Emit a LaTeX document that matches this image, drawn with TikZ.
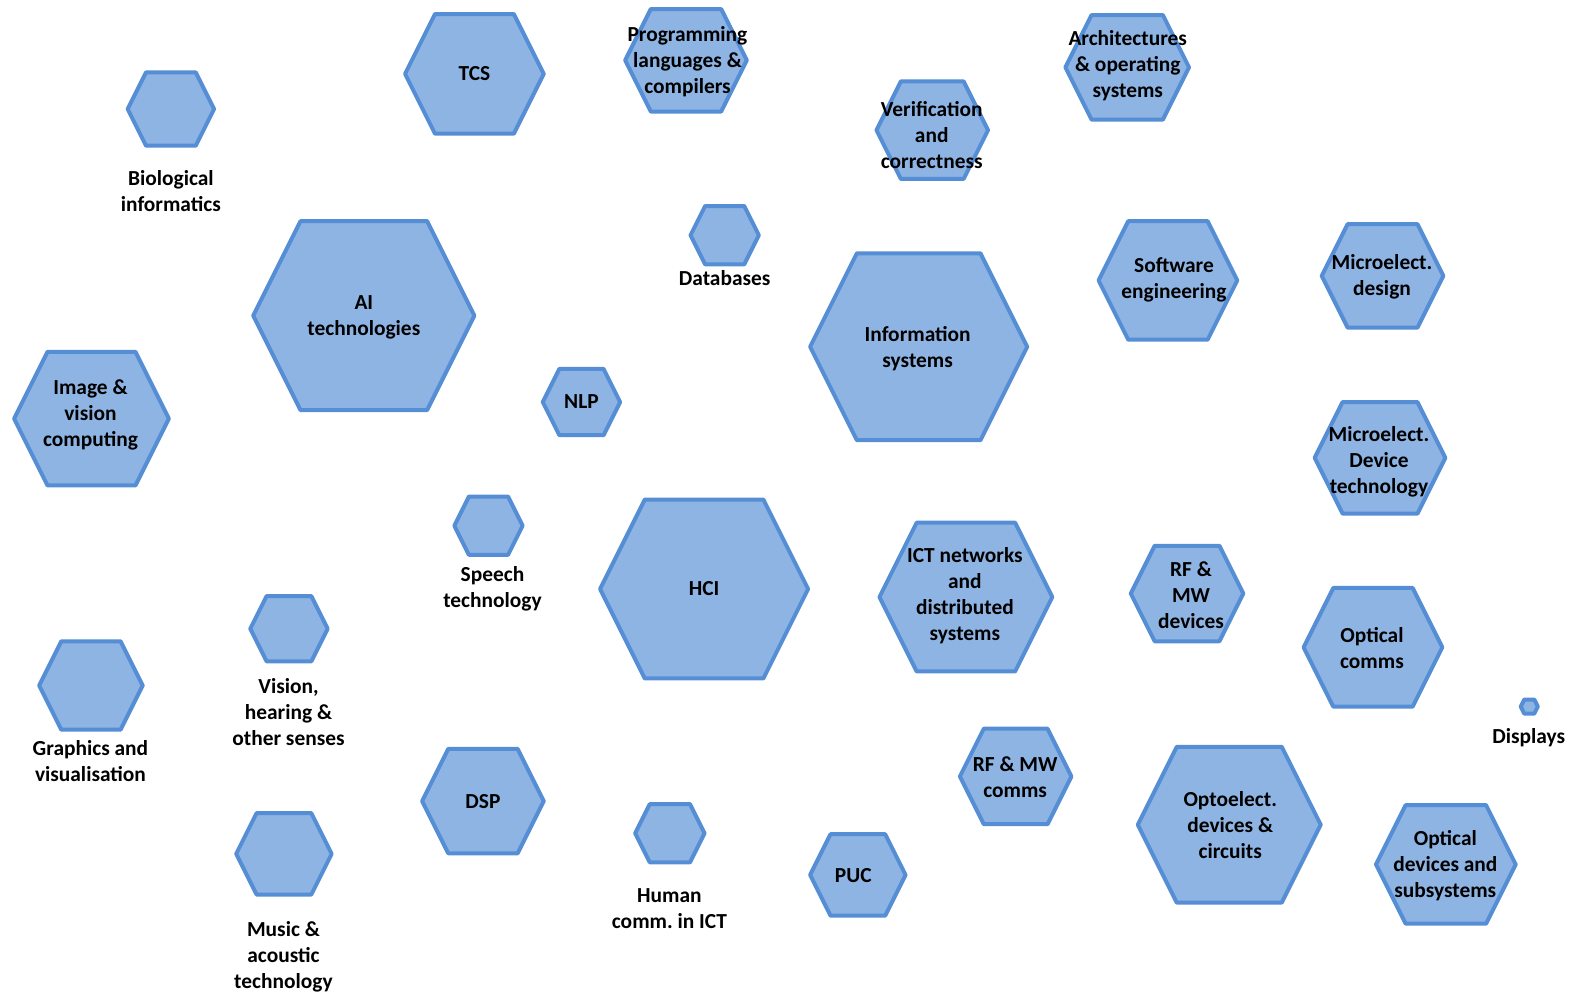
\documentclass[tikz,border=0pt]{standalone}
\usepackage{fontspec}
\setmainfont{Carlito}
\usepackage{tikz}
\usetikzlibrary{positioning}
\definecolor{hexfill}{RGB}{142,180,227}
\definecolor{hexline}{RGB}{85,142,213}
\tikzset{
  hexcell/.style = {fill=hexfill, draw=hexline, line width=2pt, line join=round},
  hexlab/.style  = {align=center, inner sep=0pt, font=\bfseries\fontsize{10.7}{13}\selectfont},
}
% hexagon from its outer box: name, left, top, right, bottom
\newcommand\hexcell[5]{%
  \pgfmathsetmacro\hxl{#2+2}\pgfmathsetmacro\hxr{#4-2}%
  \pgfmathsetmacro\hyt{#3+2}\pgfmathsetmacro\hyb{#5-2}%
  \pgfmathsetmacro\hym{(#3+#5)/2}%
  \pgfmathsetmacro\hd{0.25*min(\hxr-\hxl,\hyb-\hyt)}%
  \draw[hexcell] (\hxl,\hym) -- (\hxl+\hd,\hyt) -- (\hxr-\hd,\hyt)
    -- (\hxr,\hym) -- (\hxr-\hd,\hyb) -- (\hxl+\hd,\hyb) -- cycle;
  \coordinate (#1) at ({(#2+#4)/2},\hym);
}
\begin{document}
\begin{tikzpicture}[x=0.5025pt,y=-0.5025pt]
\useasboundingbox (0,0) rectangle (1568,988);

% top row
\hexcell{bio}{125}{70}{215}{147}
\hexcell{tcs}{401}{12}{543}{135}
\hexcell{prog}{620}{7}{745}{113}
\hexcell{verif}{870}{79}{985}{180}
\hexcell{arch}{1058}{13}{1185}{121}
\node[hexlab] (bio label) at (170,190) {Biological\\informatics};
\node[hexlab] (tcs label) at (tcs) {TCS};
\node[hexlab] (prog label) at (684,61) {Programming\\languages \&\\compilers};
\node[hexlab] (verif label) at (927,134) {Verification\\and\\correctness};
\node[hexlab] (arch label) at (1122,65) {Architectures\\\& operating\\systems};

% second row
\hexcell{ai}{250}{218}{474}{410}
\hexcell{db}{685}{203}{757}{265}
\hexcell{info}{804}{250}{1024}{440}
\hexcell{soft}{1091}{218}{1233}{340}
\hexcell{mdesign}{1313}{221}{1438}{328}
\node[hexlab] (ai label) at (362,316) {AI\\technologies};
\node[hexlab] (db label) at (721,277) {Databases};
\node[hexlab] (info label) at (913,347) {Information\\systems};
\node[hexlab] (soft label) at (1168,278) {Software\\engineering};
\node[hexlab] (mdesign label) at (1375,275) {Microelect.\\design};

% middle
\hexcell{image}{12}{348}{170}{485}
\hexcell{nlp}{538}{365}{619}{435}
\hexcell{mdev}{1306}{398}{1440}{513}
\hexcell{speech}{450}{492}{522}{554}
\hexcell{hci}{595}{495}{806}{677}
\hexcell{ict}{873}{518}{1049}{670}
\hexcell{rfdev}{1123}{541}{1239}{640}
\hexcell{optcomm}{1295}{583}{1437}{705}
\node[hexlab] (image label) at (90,413) {Image \&\\vision\\computing};
\node[hexlab] (nlp label) at (nlp) {NLP};
\node[hexlab] (mdev label) at (1372,459) {Microelect.\\Device\\technology};
\node[hexlab] (speech label) at (490,586) {Speech\\technology};
\node[hexlab] (hci label) at (hci) {HCI};
\node[hexlab] (ict label) at (960,593) {ICT networks\\and\\distributed\\systems};
\node[hexlab] (rfdev label) at (1185,592) {RF \&\\MW\\devices};
\node[hexlab] (optcomm label) at (1365,645) {Optical\\comms};

% lower part
\hexcell{senses}{247}{591}{328}{660}
\hexcell{graphics}{37}{636}{144}{728}
\hexcell{displays}{1511}{694}{1532}{712}
\hexcell{dsp}{418}{743}{543}{851}
\hexcell{rfcomm}{953}{723}{1068}{822}
\hexcell{opto}{1130}{741}{1316}{900}
\hexcell{human}{630}{798}{703}{860}
\hexcell{puc}{804}{828}{903}{913}
\hexcell{music}{233}{807}{332}{892}
\hexcell{optdev}{1367}{799}{1510}{921}
\node[hexlab] (senses label) at (287,708) {Vision,\\hearing \&\\other senses};
\node[hexlab] (graphics label) at (90,757) {Graphics and\\visualisation};
\node[hexlab] (displays label) at (1521,734) {Displays};
\node[hexlab] (dsp label) at (dsp) {DSP};
\node[hexlab] (rfcomm label) at (1010,773) {RF \& MW\\comms};
\node[hexlab] (opto label) at (1224,821) {Optoelect.\\devices \&\\circuits};
\node[hexlab] (human label) at (666,904) {Human\\comm.\ in ICT};
\node[hexlab] (puc label) at (849,871) {PUC};
\node[hexlab] (music label) at (282,952) {Music \&\\acoustic\\technology};
\node[hexlab] (optdev label) at (1438,861) {Optical\\devices and\\subsystems};
\end{tikzpicture}
\end{document}
